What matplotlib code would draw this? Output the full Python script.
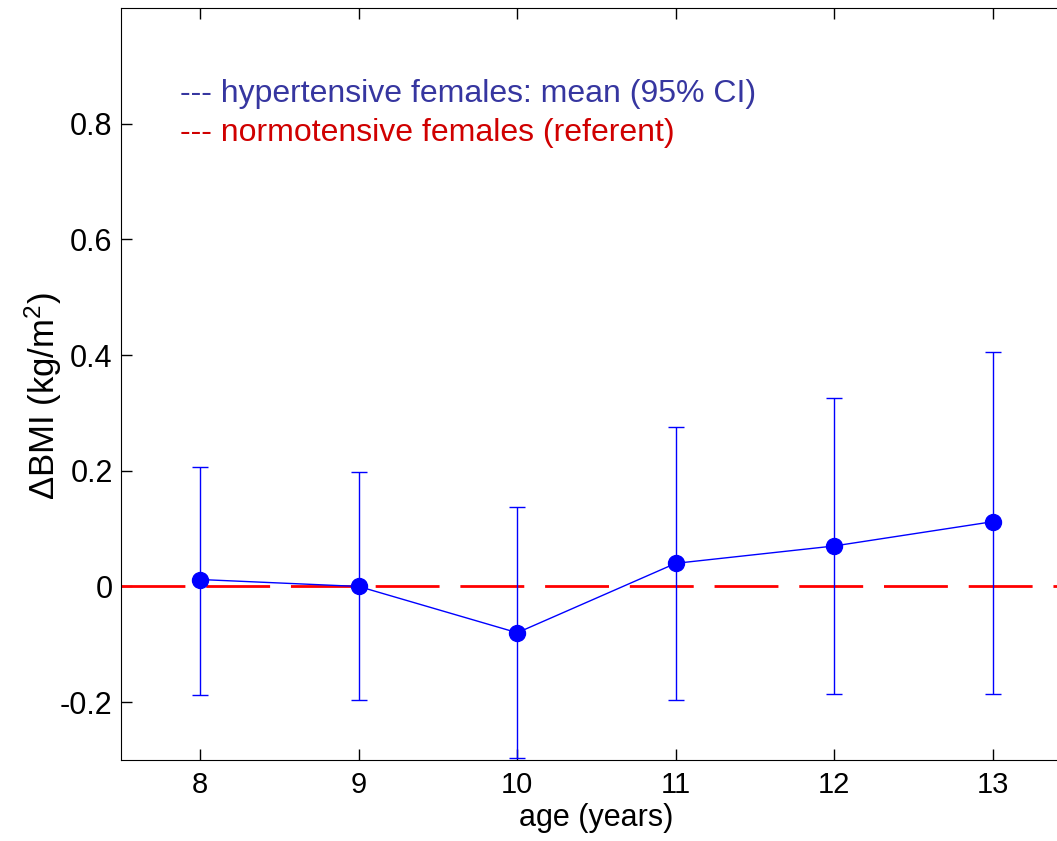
import matplotlib.pyplot as plt

plt.rcParams['font.family'] = ['Liberation Sans', 'DejaVu Sans']
plt.rcParams['mathtext.default'] = 'regular'

# data
ages = [8, 9, 10, 11, 12, 13]
mean_bmi = [0.012, 0.0, -0.080, 0.040, 0.070, 0.112]
ci_upper = [0.206, 0.198, 0.137, 0.276, 0.326, 0.406]
ci_lower = [-0.187, -0.197, -0.297, -0.197, -0.186, -0.186]
yticks = [-0.2, 0, 0.2, 0.4, 0.6, 0.8]
ytick_labels = ['-0.2', '0', '0.2', '0.4', '0.6', '0.8']

fig = plt.figure(figsize=(10.57, 8.41), dpi=100)
# axes runs past the right edge, as in the original
ax = fig.add_axes([121 / 1057, 1 - 760 / 841, 951 / 1057, 752 / 841])

# referent line
ax.axhline(0, color='red', lw=2, dashes=(23, 7.5))

err_lo = [m - lo for m, lo in zip(mean_bmi, ci_lower)]
err_hi = [hi - m for m, hi in zip(mean_bmi, ci_upper)]
ax.errorbar(ages, mean_bmi, yerr=[err_lo, err_hi], fmt='o-', color='blue',
            lw=1, elinewidth=1, capsize=5.6, capthick=1, ms=11.5, zorder=3)

ax.text(7.874, 0.838, '--- hypertensive females: mean (95% CI)',
        color='#3636a0', fontsize=23, va='baseline')
ax.text(7.874, 0.770, '--- normotensive females (referent)',
        color='#d00000', fontsize=23, va='baseline')

ax.set_xlim(7.5, 13.5)
ax.set_ylim(-0.3, 1.0)
ax.set_xticks(ages)
ax.set_yticks(yticks)
ax.set_yticklabels(ytick_labels)
ax.tick_params(direction='in', length=8, width=1, top=True, right=True)
ax.tick_params(axis='x', pad=8, labelsize=21)
ax.tick_params(axis='y', pad=6, labelsize=22)
ax.set_xlabel('age (years)', fontsize=22)
ax.set_ylabel('ΔBMI (kg/m$^2$)', fontsize=25)
ax.xaxis.set_label_coords(0.5, -0.057)
ax.yaxis.set_label_coords(-0.060, 0.484)

fig.savefig('out.png', dpi=100)
